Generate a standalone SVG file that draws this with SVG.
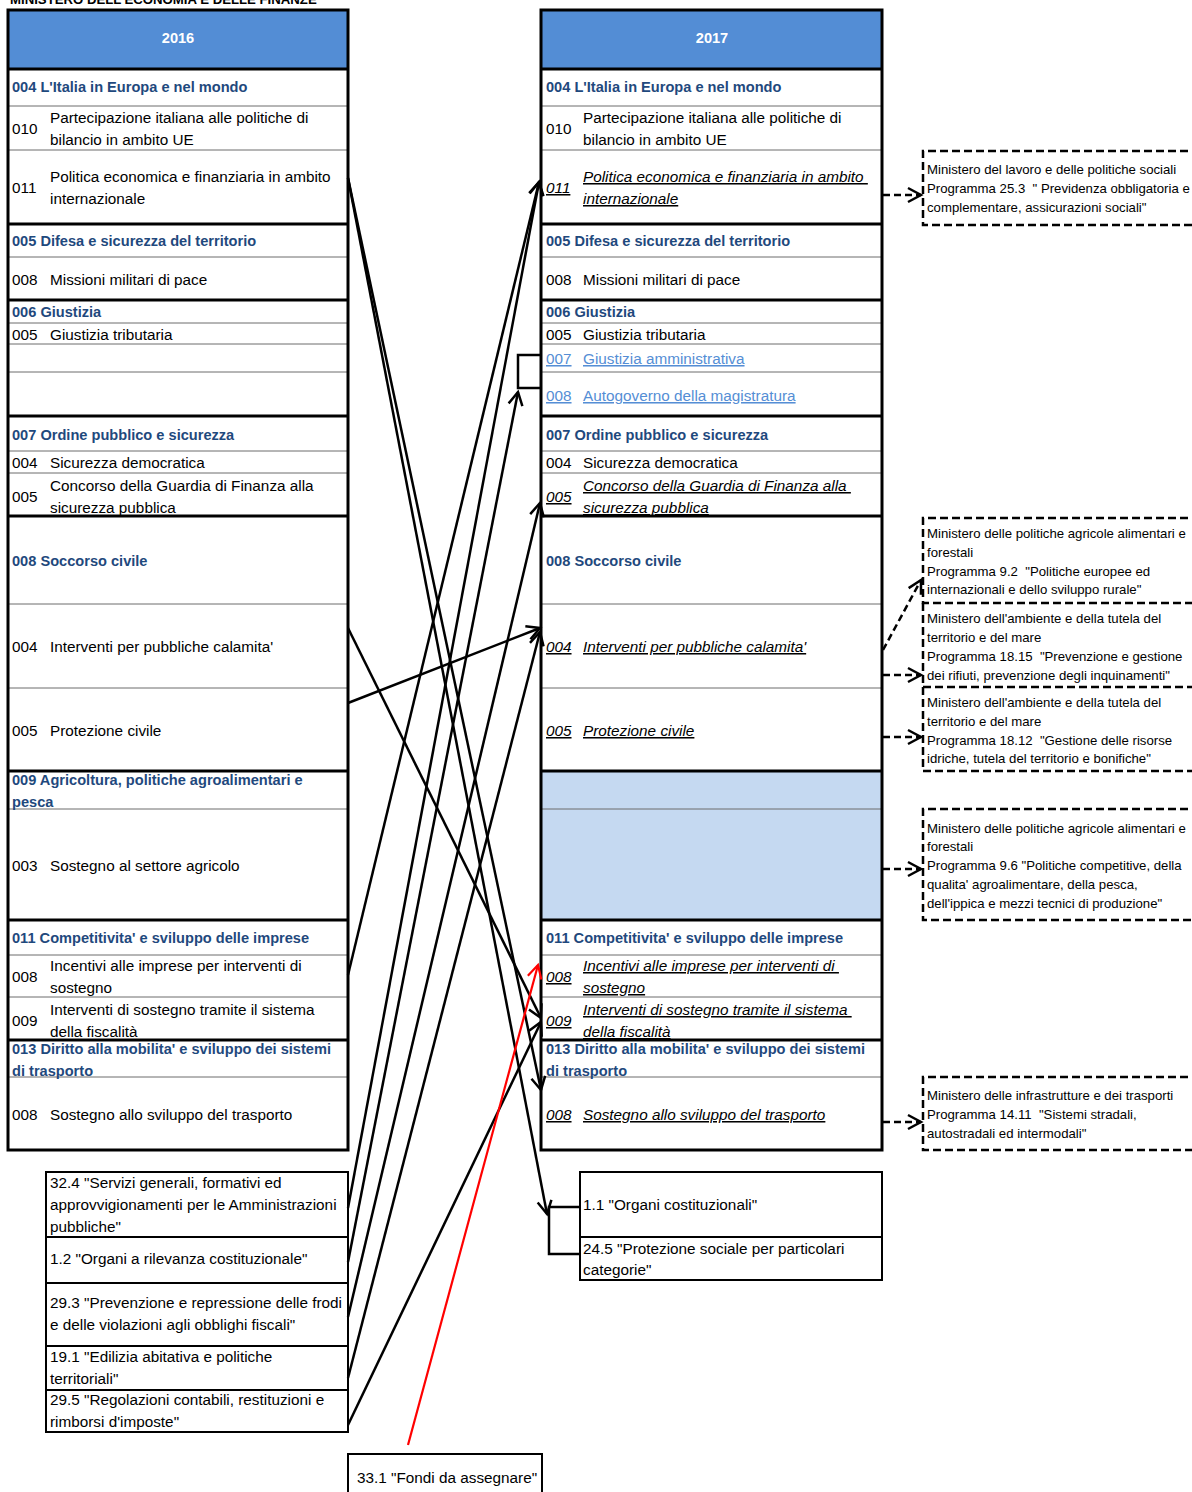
<svg xmlns="http://www.w3.org/2000/svg" width="1192" height="1492" viewBox="0 0 1192 1492">
<defs>
<marker id="ah" markerUnits="userSpaceOnUse" markerWidth="24" markerHeight="24" refX="15" refY="9" orient="auto">
<path d="M2,2 L15,9 L2,16" fill="none" stroke="#000" stroke-width="2.5"/>
</marker>
<marker id="ahr" markerUnits="userSpaceOnUse" markerWidth="24" markerHeight="24" refX="15" refY="9" orient="auto">
<path d="M2,2 L15,9 L2,16" fill="none" stroke="#FF0000" stroke-width="2.2"/>
</marker>
</defs>
<style>
text{font-family:"Liberation Sans",Arial,sans-serif;font-size:15.3px;fill:#000}
.h{font-size:14.6px;font-weight:bold;fill:#1F497D}
.ttl{font-size:13.2px;font-weight:bold}
.hd{font-size:14.6px;font-weight:bold;fill:#fff}
.iu{font-style:italic;text-decoration:underline}
.lb{fill:#558ED5;text-decoration:underline}
.s{font-size:13.2px;white-space:pre}
.frame{fill:none;stroke:#000;stroke-width:3}
.box{fill:#fff;stroke:#000;stroke-width:2}
.thk{stroke:#000;stroke-width:3}
.thn{stroke:#6d6d6d;stroke-width:1}
.con{stroke:#000;stroke-width:2.5;fill:none;marker-end:url(#ah)}
.red{stroke:#FF0000;stroke-width:2.2;fill:none;marker-end:url(#ahr)}
.brk{stroke:#000;stroke-width:2.5;fill:none}
.dbox{fill:none;stroke:#000;stroke-width:2.5;stroke-dasharray:8 4}
.dcon{stroke:#000;stroke-width:2.5;stroke-dasharray:7 4;fill:none;marker-end:url(#ah)}
</style>
<rect width="1192" height="1492" fill="#fff"/>
<text class="ttl" x="10" y="4">MINISTERO DELL'ECONOMIA E DELLE FINANZE</text>

<g id="t2016">
<rect x="8" y="10" width="340" height="58" fill="#538DD5"/>
<text class="hd" x="178" y="43" text-anchor="middle">2016</text>
<g>
<line class="thn" x1="8" y1="106" x2="348" y2="106"/>
<line class="thn" x1="8" y1="150" x2="348" y2="150"/>
<line class="thn" x1="8" y1="257" x2="348" y2="257"/>
<line class="thn" x1="8" y1="323" x2="348" y2="323"/>
<line class="thn" x1="8" y1="344" x2="348" y2="344"/>
<line class="thn" x1="8" y1="372" x2="348" y2="372"/>
<line class="thn" x1="8" y1="451" x2="348" y2="451"/>
<line class="thn" x1="8" y1="473" x2="348" y2="473"/>
<line class="thn" x1="8" y1="604" x2="348" y2="604"/>
<line class="thn" x1="8" y1="688" x2="348" y2="688"/>
<line class="thn" x1="8" y1="809" x2="348" y2="809"/>
<line class="thn" x1="8" y1="955" x2="348" y2="955"/>
<line class="thn" x1="8" y1="997" x2="348" y2="997"/>
<line class="thn" x1="8" y1="1077" x2="348" y2="1077"/>
<line class="thk" x1="8" y1="69" x2="348" y2="69"/>
<line class="thk" x1="8" y1="224" x2="348" y2="224"/>
<line class="thk" x1="8" y1="300" x2="348" y2="300"/>
<line class="thk" x1="8" y1="416" x2="348" y2="416"/>
<line class="thk" x1="8" y1="516" x2="348" y2="516"/>
<line class="thk" x1="8" y1="771" x2="348" y2="771"/>
<line class="thk" x1="8" y1="920" x2="348" y2="920"/>
<line class="thk" x1="8" y1="1040" x2="348" y2="1040"/>
</g>
<rect class="frame" x="8" y="10" width="340" height="1140"/>
<text class="h" x="12" y="92">004 L'Italia in Europa e nel mondo</text>
<text x="12" y="134">010</text><text x="50" y="123">Partecipazione italiana alle politiche di</text><text x="50" y="145">bilancio in ambito UE</text>
<text x="12" y="193">011</text><text x="50" y="182">Politica economica e finanziaria in ambito</text><text x="50" y="204">internazionale</text>
<text class="h" x="12" y="246">005 Difesa e sicurezza del territorio</text>
<text x="12" y="285">008</text><text x="50" y="285">Missioni militari di pace</text>
<text class="h" x="12" y="317">006 Giustizia</text>
<text x="12" y="340">005</text><text x="50" y="340">Giustizia tributaria</text>
<text class="h" x="12" y="440">007 Ordine pubblico e sicurezza</text>
<text x="12" y="468">004</text><text x="50" y="468">Sicurezza democratica</text>
<text x="12" y="502">005</text><text x="50" y="491">Concorso della Guardia di Finanza alla</text><text x="50" y="513">sicurezza pubblica</text>
<text class="h" x="12" y="566">008 Soccorso civile</text>
<text x="12" y="652">004</text><text x="50" y="652">Interventi per pubbliche calamita'</text>
<text x="12" y="736">005</text><text x="50" y="736">Protezione civile</text>
<text class="h" x="12" y="785">009 Agricoltura, politiche agroalimentari e</text><text class="h" x="12" y="807">pesca</text>
<text x="12" y="871">003</text><text x="50" y="871">Sostegno al settore agricolo</text>
<text class="h" x="12" y="943">011 Competitivita' e sviluppo delle imprese</text>
<text x="12" y="982">008</text><text x="50" y="971">Incentivi alle imprese per interventi di</text><text x="50" y="993">sostegno</text>
<text x="12" y="1026">009</text><text x="50" y="1015">Interventi di sostegno tramite il sistema</text><text x="50" y="1037">della fiscalità</text>
<text class="h" x="12" y="1054">013 Diritto alla mobilita' e sviluppo dei sistemi</text><text class="h" x="12" y="1076">di trasporto</text>
<text x="12" y="1120">008</text><text x="50" y="1120">Sostegno allo sviluppo del trasporto</text>
</g>

<g id="t2017">
<rect x="541" y="10" width="341" height="58" fill="#538DD5"/>
<rect x="541" y="771" width="341" height="149" fill="#C5D9F1"/>
<text class="hd" x="712" y="43" text-anchor="middle">2017</text>
<g>
<line class="thn" x1="541" y1="106" x2="882" y2="106"/>
<line class="thn" x1="541" y1="150" x2="882" y2="150"/>
<line class="thn" x1="541" y1="257" x2="882" y2="257"/>
<line class="thn" x1="541" y1="323" x2="882" y2="323"/>
<line class="thn" x1="541" y1="344" x2="882" y2="344"/>
<line class="thn" x1="541" y1="372" x2="882" y2="372"/>
<line class="thn" x1="541" y1="451" x2="882" y2="451"/>
<line class="thn" x1="541" y1="473" x2="882" y2="473"/>
<line class="thn" x1="541" y1="604" x2="882" y2="604"/>
<line class="thn" x1="541" y1="688" x2="882" y2="688"/>
<line class="thn" x1="541" y1="809" x2="882" y2="809"/>
<line class="thn" x1="541" y1="955" x2="882" y2="955"/>
<line class="thn" x1="541" y1="997" x2="882" y2="997"/>
<line class="thn" x1="541" y1="1077" x2="882" y2="1077"/>
<line class="thk" x1="541" y1="69" x2="882" y2="69"/>
<line class="thk" x1="541" y1="224" x2="882" y2="224"/>
<line class="thk" x1="541" y1="300" x2="882" y2="300"/>
<line class="thk" x1="541" y1="416" x2="882" y2="416"/>
<line class="thk" x1="541" y1="516" x2="882" y2="516"/>
<line class="thk" x1="541" y1="771" x2="882" y2="771"/>
<line class="thk" x1="541" y1="920" x2="882" y2="920"/>
<line class="thk" x1="541" y1="1040" x2="882" y2="1040"/>
</g>
<rect class="frame" x="541" y="10" width="341" height="1140"/>
<text class="h" x="546" y="92">004 L'Italia in Europa e nel mondo</text>
<text x="546" y="134">010</text><text x="583" y="123">Partecipazione italiana alle politiche di</text><text x="583" y="145">bilancio in ambito UE</text>
<text class="iu" x="546" y="193">011</text><text class="iu" x="583" y="182">Politica economica e finanziaria in ambito&#160;</text><text class="iu" x="583" y="204">internazionale</text>
<text class="h" x="546" y="246">005 Difesa e sicurezza del territorio</text>
<text x="546" y="285">008</text><text x="583" y="285">Missioni militari di pace</text>
<text class="h" x="546" y="317">006 Giustizia</text>
<text x="546" y="340">005</text><text x="583" y="340">Giustizia tributaria</text>
<text class="lb" x="546" y="364">007</text><text class="lb" x="583" y="364">Giustizia amministrativa</text>
<text class="lb" x="546" y="401">008</text><text class="lb" x="583" y="401">Autogoverno della magistratura</text>
<text class="h" x="546" y="440">007 Ordine pubblico e sicurezza</text>
<text x="546" y="468">004</text><text x="583" y="468">Sicurezza democratica</text>
<text class="iu" x="546" y="502">005</text><text class="iu" x="583" y="491">Concorso della Guardia di Finanza alla&#160;</text><text class="iu" x="583" y="513">sicurezza pubblica</text>
<text class="h" x="546" y="566">008 Soccorso civile</text>
<text class="iu" x="546" y="652">004</text><text class="iu" x="583" y="652">Interventi per pubbliche calamita'</text>
<text class="iu" x="546" y="736">005</text><text class="iu" x="583" y="736">Protezione civile</text>
<text class="h" x="546" y="943">011 Competitivita' e sviluppo delle imprese</text>
<text class="iu" x="546" y="982">008</text><text class="iu" x="583" y="971">Incentivi alle imprese per interventi di&#160;</text><text class="iu" x="583" y="993">sostegno</text>
<text class="iu" x="546" y="1026">009</text><text class="iu" x="583" y="1015">Interventi di sostegno tramite il sistema&#160;</text><text class="iu" x="583" y="1037">della fiscalità</text>
<text class="h" x="546" y="1054">013 Diritto alla mobilita' e sviluppo dei sistemi</text><text class="h" x="546" y="1076">di trasporto</text>
<text class="iu" x="546" y="1120">008</text><text class="iu" x="583" y="1120">Sostegno allo sviluppo del trasporto</text>
</g>

<g id="b32_4"><rect class="box" x="46" y="1172" width="302" height="65"/>
<text x="50" y="1188">32.4 "Servizi generali, formativi ed</text><text x="50" y="1210">approvvigionamenti per le Amministrazioni</text><text x="50" y="1232">pubbliche"</text></g>
<g id="b1_2"><rect class="box" x="46" y="1237" width="302" height="46"/>
<text x="50" y="1264">1.2 "Organi a rilevanza costituzionale"</text></g>
<g id="b29_3"><rect class="box" x="46" y="1283" width="302" height="63"/>
<text x="50" y="1308">29.3 "Prevenzione e repressione delle frodi</text><text x="50" y="1330">e delle violazioni agli obblighi fiscali"</text></g>
<g id="b19_1"><rect class="box" x="46" y="1346" width="302" height="44"/>
<text x="50" y="1362">19.1 "Edilizia abitativa e politiche</text><text x="50" y="1384">territoriali"</text></g>
<g id="b29_5"><rect class="box" x="46" y="1390" width="302" height="42"/>
<text x="50" y="1405">29.5 "Regolazioni contabili, restituzioni e</text><text x="50" y="1427">rimborsi d'imposte"</text></g>
<g id="b33_1"><rect class="box" x="348" y="1454" width="194" height="45"/>
<text x="357" y="1483">33.1 "Fondi da assegnare"</text></g>
<g id="b1_1"><rect class="box" x="580" y="1172" width="302" height="65"/>
<text x="583" y="1210">1.1 "Organi costituzionali"</text></g>
<g id="b24_5"><rect class="box" x="580" y="1237" width="302" height="43"/>
<text x="583" y="1254">24.5 "Protezione sociale per particolari</text><text x="583" y="1275">categorie"</text></g>

<g id="d25_3"><path class="dbox" d="M1200,151 H923 V225 H1200"/>
<text class="s" x="927" y="174">Ministero del lavoro e delle politiche sociali</text>
<text class="s" x="927" y="193">Programma 25.3  " Previdenza obbligatoria e</text>
<text class="s" x="927" y="212">complementare, assicurazioni sociali"</text></g>
<g id="d9_2"><path class="dbox" d="M1200,518 H923 V603 H1200"/>
<text class="s" x="927" y="538">Ministero delle politiche agricole alimentari e</text>
<text class="s" x="927" y="557">forestali</text>
<text class="s" x="927" y="576">Programma 9.2  "Politiche europee ed</text>
<text class="s" x="927" y="594">internazionali e dello sviluppo rurale"</text></g>
<g id="d18_15"><path class="dbox" d="M923,603 V687 H1200"/>
<text class="s" x="927" y="623">Ministero dell'ambiente e della tutela del</text>
<text class="s" x="927" y="642">territorio e del mare</text>
<text class="s" x="927" y="661">Programma 18.15  "Prevenzione e gestione</text>
<text class="s" x="927" y="680">dei rifiuti, prevenzione degli inquinamenti"</text></g>
<g id="d18_12"><path class="dbox" d="M923,687 V771 H1200"/>
<text class="s" x="927" y="707">Ministero dell'ambiente e della tutela del</text>
<text class="s" x="927" y="726">territorio e del mare</text>
<text class="s" x="927" y="745">Programma 18.12  "Gestione delle risorse</text>
<text class="s" x="927" y="763">idriche, tutela del territorio e bonifiche"</text></g>
<g id="d9_6"><path class="dbox" d="M1200,809 H923 V920 H1200"/>
<text class="s" x="927" y="833">Ministero delle politiche agricole alimentari e</text>
<text class="s" x="927" y="851">forestali</text>
<text class="s" x="927" y="870">Programma 9.6 "Politiche competitive, della</text>
<text class="s" x="927" y="889">qualita' agroalimentare, della pesca,</text>
<text class="s" x="927" y="908">dell'ippica e mezzi tecnici di produzione"</text></g>
<g id="d14_11"><path class="dbox" d="M1200,1077 H923 V1150 H1200"/>
<text class="s" x="927" y="1100">Ministero delle infrastrutture e dei trasporti</text>
<text class="s" x="927" y="1119">Programma 14.11  "Sistemi stradali,</text>
<text class="s" x="927" y="1138">autostradali ed intermodali"</text></g>

<g id="connectors">
<polyline class="brk" points="541,355 518,355 518,388 541,388"/>
<polyline class="brk" points="580,1207 549,1207 549,1254 580,1254"/>
<line class="con" x1="348" y1="178" x2="547" y2="1214"/>
<line class="con" x1="348" y1="178" x2="541" y2="1090"/>
<line class="con" x1="348" y1="628" x2="541" y2="1018"/>
<line class="con" x1="348" y1="703" x2="540" y2="628"/>
<line class="con" x1="348" y1="975" x2="539" y2="182"/>
<line class="con" x1="348" y1="1208" x2="539" y2="182"/>
<line class="con" x1="348" y1="1262" x2="518" y2="392"/>
<line class="con" x1="348" y1="1317" x2="540" y2="503"/>
<line class="con" x1="348" y1="1378" x2="540" y2="632"/>
<line class="con" x1="348" y1="1425" x2="541" y2="1022"/>
<line class="red" x1="408" y1="1445" x2="538" y2="965"/>
<line class="dcon" x1="883" y1="195" x2="921" y2="195"/>
<line class="dcon" x1="883" y1="650" x2="921" y2="580"/>
<line class="dcon" x1="883" y1="675" x2="921" y2="675"/>
<line class="dcon" x1="883" y1="737" x2="921" y2="737"/>
<line class="dcon" x1="883" y1="869" x2="921" y2="869"/>
<line class="dcon" x1="883" y1="1122" x2="921" y2="1122"/>
</g>
</svg>
